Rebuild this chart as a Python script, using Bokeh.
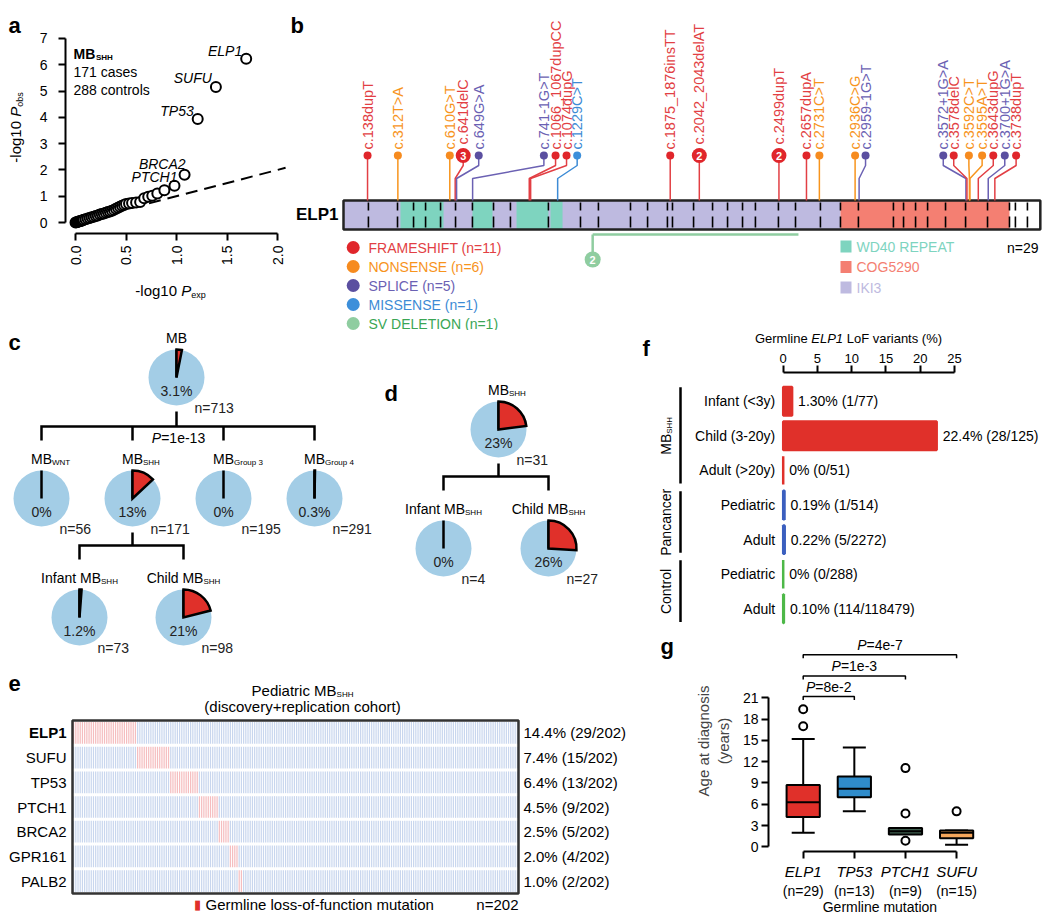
import math
from bokeh.plotting import figure
from bokeh.models import Range1d, Label, FixedTicker, NumeralTickFormatter
from bokeh.layouts import row, column
from bokeh.embed import file_html
from bokeh.resources import INLINE
from bokeh.core.properties import value

FONT = "Liberation Sans"

# ============================ DATA ============================
# (a) QQ plot, MB_SHH cases vs controls
qq_expected = [0.00, 0.01, 0.02, 0.03, 0.04, 0.05, 0.06, 0.07, 0.08, 0.10, 0.12, 0.14, 0.16, 0.18,
               0.20, 0.22, 0.24, 0.26, 0.28, 0.30, 0.32, 0.34, 0.36, 0.38, 0.40, 0.42, 0.44, 0.46,
               0.48, 0.50, 0.53, 0.56, 0.60, 0.64, 0.68, 0.72, 0.76, 0.81, 0.88, 0.98, 1.08, 1.21,
               1.39, 1.69]
qq_observed = [0.00, 0.01, 0.02, 0.04, 0.05, 0.06, 0.07, 0.09, 0.10, 0.12, 0.15, 0.17, 0.20, 0.22,
               0.25, 0.27, 0.30, 0.32, 0.34, 0.37, 0.40, 0.42, 0.45, 0.48, 0.52, 0.56, 0.60, 0.64,
               0.67, 0.70, 0.72, 0.74, 0.76, 0.78, 0.92, 0.98, 1.02, 1.10, 1.23, 1.40, 1.82, 3.94,
               5.15, 6.23]
qq_null = [0.0, 2.08]
qq_gene_names = ["ELP1", "SUFU", "TP53", "BRCA2", "PTCH1"]
qq_gene_index = [43, 42, 41, 40, 39]
qq_cases = 171
qq_controls = 288

# (b) ELP1 germline variants (cDNA coordinates)
elp1_cds_len = 3999
mut_names = ["c.138dupT", "c.312T>A", "c.610G>T", "c.641delC", "c.649G>A", "c.741-1G>T",
             "c.1066_1067dupCC", "c.1074dupG", "c.1229C>T", "c.1875_1876insTT", "c.2042_2043delAT",
             "c.2499dupT", "c.2657dupA", "c.2731C>T", "c.2936C>G", "c.2959-1G>T", "c.3572+1G>A",
             "c.3578delC", "c.3592C>T", "c.3595A>T", "c.3643dupG", "c.3700+1G>A", "c.3738dupT"]
mut_pos = [138, 312, 610, 641, 649, 741, 1066, 1074, 1229, 1875, 2042, 2499, 2657, 2731, 2936,
           2959, 3572, 3578, 3592, 3595, 3643, 3700, 3738]
mut_draw_pos = [138, 312, 610, 687, 776, 1150, 1217, 1280, 1341, 1875, 2042, 2499, 2657, 2731,
                2936, 2996, 3442, 3502, 3589, 3665, 3729, 3795, 3860]
mut_type = ["FS", "NS", "NS", "FS", "SP", "SP", "FS", "FS", "MS", "FS", "FS", "FS", "FS", "NS",
            "NS", "SP", "SP", "FS", "NS", "NS", "FS", "SP", "FS"]
mut_count = [1, 1, 1, 3, 1, 1, 1, 1, 1, 1, 2, 2, 1, 1, 1, 1, 1, 1, 1, 1, 1, 1, 1]
exon_bounds = [143, 310, 402, 471, 557, 643, 740, 861, 958, 1176, 1360, 1463, 1647, 1745, 1859,
               1888, 2009, 2118, 2204, 2290, 2364, 2496, 2594, 2737, 2852, 2955, 3156, 3214, 3283,
               3352, 3455, 3570, 3696, 3822, 3856, 3925]
iki3_span = [0, 2852]
cog5290_span = [2852, 3822]
wd40_starts = [327, 740, 993, 1188]
wd40_ends = [574, 855, 1176, 1257]
sv_span = [1430, 2611]
sv_count = 2
variant_classes = ["FRAMESHIFT", "NONSENSE", "SPLICE", "MISSENSE", "SV DELETION"]
variant_class_n = [11, 6, 5, 1, 1]
domain_names = ["WD40 REPEAT", "COG5290", "IKI3"]
elp1_carriers = 29

# (c) ELP1 carrier frequency by subgroup
c_names = ["MB", "WNT", "SHH", "Group 3", "Group 4", "Infant", "Child"]
c_pct = [3.1, 0, 13, 0, 0.3, 1.2, 21]
c_n = [713, 56, 171, 195, 291, 73, 98]
c_pvalue = "1e-13"

# (d) replication cohort
d_names = ["SHH", "Infant", "Child"]
d_pct = [23, 0, 26]
d_n = [31, 4, 27]

# (e) pediatric MB_SHH germline LoF genes
e_genes = ["ELP1", "SUFU", "TP53", "PTCH1", "BRCA2", "GPR161", "PALB2"]
e_carriers = [29, 15, 13, 9, 5, 4, 2]
e_total = 202

# (f) germline ELP1 LoF frequency
f_groups = ["MB_SHH", "MB_SHH", "MB_SHH", "Pancancer", "Pancancer", "Control", "Control"]
f_labels = ["Infant (<3y)", "Child (3-20y)", "Adult (>20y)", "Pediatric", "Adult", "Pediatric", "Adult"]
f_pct = [1.30, 22.4, 0, 0.19, 0.22, 0, 0.10]
f_pct_text = ["1.30%", "22.4%", "0%", "0.19%", "0.22%", "0%", "0.10%"]
f_k = [1, 28, 0, 1, 5, 0, 114]
f_n = [77, 125, 51, 514, 2272, 288, 118479]
f_ticks = [0, 5, 10, 15, 20, 25]

# (g) age at diagnosis by germline mutation
g_genes = ["ELP1", "TP53", "PTCH1", "SUFU"]
g_n = [29, 13, 9, 15]
g_low = [2.0, 5.0, 1.8, 0.3]
g_q1 = [4.2, 7.0, 1.75, 1.2]
g_med = [6.3, 8.2, 2.2, 2.0]
g_q3 = [8.7, 9.9, 2.65, 2.3]
g_high = [15.2, 14.0, 2.6, 2.3]
g_out_group = [0, 0, 2, 2, 2, 3]
g_out_age = [17.0, 19.4, 11.1, 4.7, 0.85, 5.0]
g_pairs = [1, 2, 3]
g_pvalues = ["8e-2", "1e-3", "4e-7"]
g_yticks = [0, 3, 6, 9, 12, 15, 18, 21]

# ============================ STYLE ============================
RED = "#E0302A"
PIE_BLUE = "#A3CDE6"
TYPE_FILL = {"FS": "#E0262B", "NS": "#F68B1F", "SP": "#5B4FA0", "MS": "#3D8FDA"}
TYPE_TEXT = {"FS": "#E23F44", "NS": "#F7941D", "SP": "#6B61B3", "MS": "#3D8BD5"}
CLASS_FILL = ["#E0262B", "#F68B1F", "#5B4FA0", "#3D8FDA", "#8FCDA0"]
CLASS_TEXT = ["#E23F44", "#F7941D", "#6B61B3", "#3D8BD5", "#3AA655"]
IKI3_C, WD40_C, COG_C = "#BEBAE0", "#7ED4BF", "#F47F72"
GROUP_C = {"MB_SHH": "#E0302A", "Pancancer": "#3B5FBF", "Control": "#4DB848"}
BOX_C = ["#E0302A", "#2F8CCB", "#3E5E4E", "#F5A65B"]

_W = {' ': .278, '!': .278, '(': .333, ')': .333, '%': .889, '+': .584, '-': .333, '.': .278,
      '/': .278, '<': .584, '=': .584, '>': .584, '_': .556,
      'A': .667, 'B': .667, 'C': .722, 'D': .722, 'E': .667, 'F': .611, 'G': .778, 'H': .722,
      'I': .278, 'J': .5, 'K': .667, 'L': .556, 'M': .833, 'N': .722, 'O': .778, 'P': .667,
      'Q': .778, 'R': .722, 'S': .667, 'T': .611, 'U': .722, 'V': .667, 'W': .944, 'X': .667,
      'Y': .667, 'Z': .611, 'a': .556, 'b': .556, 'c': .5, 'd': .556, 'e': .556, 'f': .278,
      'g': .556, 'h': .556, 'i': .222, 'j': .222, 'k': .5, 'l': .222, 'm': .833, 'n': .556,
      'o': .556, 'p': .556, 'q': .556, 'r': .333, 's': .5, 't': .278, 'u': .556, 'v': .5,
      'w': .722, 'x': .5, 'y': .5, 'z': .5}


def tw(s, size, style="normal"):
    w = sum(_W.get(ch, 0.556) for ch in s) * size
    return w * (1.07 if "bold" in style else 1.0)


def lab(P, text, rx, ry, size=14, style="normal", color="black", align="left",
        baseline="middle", angle=0.0):
    p, mx, my = P
    p.add_layout(Label(x=mx(rx), y=my(ry), text=text, text_font=FONT,
                       text_font_size=f"{size}px", text_font_style=style, text_color=color,
                       text_align=align, text_baseline=baseline, angle=angle))


def rich(P, pieces, rx, ry, align="left", rotate=False):
    tot = sum(tw(t, s, st) for t, s, st, c, d in pieces)
    cur = {"left": 0.0, "center": -tot / 2, "right": -tot}[align]
    for t, s, st, c, d in pieces:
        lead = len(t) - len(t.lstrip(" "))
        cur += lead * 0.278 * s
        body = t.strip(" ")
        if rotate:
            lab(P, body, rx + d, ry - cur, s, st, c, "left", "middle", math.pi / 2)
        else:
            lab(P, body, rx + cur, ry + d, s, st, c, "left", "middle")
        cur += tw(t.lstrip(" "), s, st)


def canvas(w, h, xr, yr):
    p = figure(width=w, height=h, x_range=xr, y_range=yr, x_axis_location=None,
               y_axis_location=None, toolbar_location=None, output_backend="svg", min_border=0)
    p.outline_line_color = None
    p.grid.visible = False
    return p


def canvas_ref(x0, y0, w, h):
    p = canvas(w, h, Range1d(x0, x0 + w), Range1d(-(y0 + h), -y0))
    return p, (p, lambda rx: rx, lambda ry: -ry)


def box(p):
    return column(p)


TXT = dict(text_font=value(FONT))


def style_axis(ax, size="14px"):
    ax.axis_line_width = 2
    ax.axis_line_color = "black"
    ax.major_tick_line_width = 2
    ax.major_tick_line_color = "black"
    ax.major_tick_out = 7
    ax.major_tick_in = 0
    ax.minor_tick_line_color = None
    ax.major_label_text_font = FONT
    ax.major_label_text_font_size = size
    ax.major_label_text_color = "black"


# ============================ (a) ============================
A_X0, A_PX, A_Y0, A_PY = 75.0, 101.0, 222.0, 26.29
amx = lambda rx: (rx - A_X0) / A_PX
amy = lambda ry: (A_Y0 - ry) / A_PY
pa = figure(width=259, height=275, x_range=Range1d(amx(65), amx(287)),
            y_range=Range1d(amy(233), amy(30)), min_border_left=37, min_border_right=0,
            min_border_top=30, min_border_bottom=42, toolbar_location=None, output_backend="svg")
Pa = (pa, amx, amy)
pa.grid.visible = False
pa.outline_line_color = None
style_axis(pa.xaxis[0])
style_axis(pa.yaxis[0])
pa.xaxis.ticker = FixedTicker(ticks=[0, 0.5, 1, 1.5, 2])
pa.xaxis.formatter = NumeralTickFormatter(format="0.0")
pa.xaxis.bounds = (0, 2)
pa.xaxis.major_label_orientation = math.pi / 2
pa.xaxis.major_label_standoff = 5
pa.yaxis.ticker = FixedTicker(ticks=list(range(8)))
pa.yaxis.bounds = (0, 7)
pa.yaxis.major_label_standoff = 11
pa.line(qq_null, qq_null, line_color="black", line_width=2, line_dash="12 7")
pa.scatter(qq_expected, qq_observed, size=10, fill_color="white", line_color="black", line_width=2)
pa.text([qq_expected[i] for i in qq_gene_index], [qq_observed[i] for i in qq_gene_index],
        text=qq_gene_names, x_offset=[-4, -4, -4, 1, 3], y_offset=[-8, -9, -8, -11, -9],
        text_align="right", text_baseline="middle", text_font_size="14px",
        text_font_style="italic", text_color="black", **TXT)
rich(Pa, [("MB", 14, "bold", "black", 0), ("SHH", 8, "bold", "black", 4)], 73, 53)
lab(Pa, f"{qq_cases} cases", 73, 71, 14)
lab(Pa, f"{qq_controls} controls", 73, 89, 14)

paL, PaL = canvas_ref(0, 0, 28, 330)
lab(PaL, "a", 8, 25, 22, "bold", baseline="alphabetic")
rich(PaL, [("-log10 ", 15, "normal", "black", 0), ("P", 15, "italic", "black", 0),
           ("obs", 9, "normal", "black", 4)], 15, 127, "center", rotate=True)
paB, PaB = canvas_ref(28, 275, 259, 55)
rich(PaB, [("-log10 ", 15, "normal", "black", 0), ("P", 15, "italic", "black", 0),
           ("exp", 9, "normal", "black", 4)], 170, 290, "center")

# ============================ (b) ============================
B_X0, B_PX = 343.0, 0.17425
bmx = lambda rx: (rx - B_X0) / B_PX
bmy = lambda ry: -ry
pb = canvas(755, 330, Range1d(bmx(287), bmx(1042)), Range1d(-330, 0))
Pb = (pb, bmx, bmy)
BAR_T, BAR_B = -200, -229
pb.quad(left=[iki3_span[0]], right=[iki3_span[1]], bottom=BAR_B, top=BAR_T, fill_color=IKI3_C, line_color=None)
pb.quad(left=wd40_starts, right=wd40_ends, bottom=BAR_B, top=BAR_T, fill_color=WD40_C, line_color=None)
pb.quad(left=[cog5290_span[0]], right=[cog5290_span[1]], bottom=BAR_B, top=BAR_T, fill_color=COG_C, line_color=None)
pb.segment(x0=exon_bounds, y0=-202, x1=exon_bounds, y1=-210, line_color="black", line_width=1.6)
pb.segment(x0=exon_bounds, y0=-216, x1=exon_bounds, y1=-227, line_color="black", line_width=1.6)
pb.quad(left=[0], right=[elp1_cds_len], bottom=BAR_B, top=BAR_T, fill_color=None,
        line_color="#222222", line_width=2.5)

stem_xs = [[a, a, h, h] for a, h in zip(mut_pos, mut_draw_pos)]
stem_ys = [[-200, -178, -165, -155] for _ in mut_pos]
pb.multi_line(xs=stem_xs, ys=stem_ys, line_color=[TYPE_TEXT[t] for t in mut_type], line_width=1.5)
pb.scatter(x=mut_draw_pos, y=-155, size=[15 if c > 1 else 8 for c in mut_count],
           fill_color=[TYPE_FILL[t] for t in mut_type], line_color=None)
multi = [i for i, c in enumerate(mut_count) if c > 1]
pb.text(x=[mut_draw_pos[i] for i in multi], y=-155, text=[str(mut_count[i]) for i in multi],
        text_align="center", text_baseline="middle", text_font_size="11px",
        text_font_style="bold", text_color="white", **TXT)
pb.text(x=mut_draw_pos, y=[-144 if c > 1 else -149 for c in mut_count], text=mut_names,
        angle=math.pi / 2, text_align="left", text_baseline="middle", text_font_size="14.5px",
        text_color=[TYPE_TEXT[t] for t in mut_type], **TXT)

pb.multi_line(xs=[[sv_span[0], sv_span[0]], [sv_span[0], sv_span[1]]], ys=[[-252, -234], [-234, -234]],
              line_color=CLASS_FILL[4], line_width=2.5)
pb.scatter(x=[sv_span[0]], y=[-259], size=16, fill_color=CLASS_FILL[4], line_color=None)
pb.text(x=[sv_span[0]], y=[-259], text=[str(sv_count)], text_align="center", text_baseline="middle",
        text_font_size="11px", text_font_style="bold", text_color="white", **TXT)

leg_y = [-(247 + 19 * k) for k in range(len(variant_classes))]
pb.scatter(x=bmx(352.7), y=leg_y, size=13, fill_color=CLASS_FILL, line_color=None)
pb.text(x=bmx(368), y=leg_y, text=[f"{c} (n={n})" for c, n in zip(variant_classes, variant_class_n)],
        text_align="left", text_baseline="middle", text_font_size="14px", text_color=CLASS_TEXT, **TXT)
dom_cols = [WD40_C, COG_C, IKI3_C]
dl_y = [246, 266.5, 287]
pb.quad(left=bmx(840), right=bmx(851), bottom=[-(y + 6) for y in dl_y], top=[-(y - 6) for y in dl_y],
        fill_color=dom_cols, line_color=None)
pb.text(x=bmx(856), y=[-y for y in dl_y], text=domain_names, text_align="left", text_baseline="middle",
        text_font_size="14px", text_color=dom_cols, **TXT)
lab(Pb, f"n={elp1_carriers}", 1038, 247, 14, align="right")
lab(Pb, "ELP1", 338, 214, 17, "bold", align="right")
lab(Pb, "b", 290, 25, 22, "bold", baseline="alphabetic")

# ============================ (c), (d) pies ============================
PIE_R = 28


def pie_nodes(P, centers, pcts, ns, mains, subs, modes):
    p = P[0]
    xs = [c[0] for c in centers]
    ys = [-c[1] for c in centers]
    p.circle(x=xs, y=ys, radius=PIE_R, fill_color=PIE_BLUE, line_color=None)
    p.segment(x0=xs, y0=ys, x1=xs, y1=[y + PIE_R for y in ys], line_color="black", line_width=2.5)
    for x, y, v in zip(xs, ys, pcts):
        if v > 0:
            p.wedge(x=[x], y=[y], radius=PIE_R, start_angle=math.pi / 2,
                    end_angle=math.pi / 2 - 2 * math.pi * v / 100, direction="clock",
                    fill_color=RED, line_color="black", line_width=2.5, line_join="miter")
    p.text(x=xs, y=[y - 13 for y in ys], text=[f"{v:g}%" for v in pcts], text_align="center",
           text_baseline="middle", text_font_size="14px", text_color="#222222", **TXT)
    p.text(x=[x + 18 for x in xs], y=[y - 30 for y in ys], text=[f"n={n}" for n in ns],
           text_align="left", text_baseline="middle", text_font_size="14px", text_color="#222222", **TXT)
    for (cx, cy), m, s, mode in zip(centers, mains, subs, modes):
        ly = cy - 40
        if not s:
            lab(P, m, cx, ly, 14, align="center")
        elif mode == "mb":
            rich(P, [(m, 14, "normal", "black", 0), (s, 8, "normal", "black", 4)], cx - tw(m, 14) / 2, ly)
        else:
            rich(P, [(m, 14, "normal", "black", 0), (s, 8, "normal", "black", 4)], cx, ly, "center")


def tree(P, parent, kids):
    hy = kids[0][1] - 72
    by = kids[0][1] - 58
    xs = [[parent[0], parent[0]], [kids[0][0], kids[0][0], kids[-1][0], kids[-1][0]]]
    ys = [[-(parent[1] + 34), -hy], [-by, -hy, -hy, -by]]
    for k in kids[1:-1]:
        xs.append([k[0], k[0]])
        ys.append([-hy, -by])
    P[0].multi_line(xs=xs, ys=ys, line_color="black", line_width=2.5, line_join="miter")


pc, Pc = canvas_ref(0, 330, 378, 338)
C = [(176, 377), (41, 498), (132, 498), (223, 498), (314, 498), (79, 617), (183, 617)]
tree(Pc, C[0], C[1:5])
tree(Pc, C[2], C[5:7])
c_mains = ["MB", "MB", "MB", "MB", "MB", f"{c_names[5]} MB", f"{c_names[6]} MB"]
c_subs = ["", c_names[1], c_names[2], c_names[3], c_names[4], "SHH", "SHH"]
c_modes = ["mb", "mb", "mb", "mb", "mb", "full", "full"]
pie_nodes(Pc, C, c_pct, c_n, c_mains, c_subs, c_modes)
rich(Pc, [("P", 14, "italic", "black", 0), (f"={c_pvalue}", 14, "normal", "black", 0)], 178, 437, "center")
lab(Pc, "c", 8, 342, 22, "bold", baseline="alphabetic")

pd, Pd = canvas_ref(378, 330, 277, 338)
D = [(498, 429), (443, 548), (548, 548)]
tree(Pd, D[0], D[1:3])
pie_nodes(Pd, D, d_pct, d_n, ["MB", f"{d_names[1]} MB", f"{d_names[2]} MB"],
          [d_names[0], "SHH", "SHH"], ["mb", "full", "full"])
lab(Pd, "d", 384, 393, 22, "bold", baseline="alphabetic")
lab(Pd, "f", 642, 348, 22, "bold", baseline="alphabetic")

# ============================ (e) ============================
E_L, E_R, E_T, E_B = 72, 518, 720, 893
NG = len(e_genes)
emx = lambda rx: (rx - E_L) * e_total / (E_R - E_L)
emy = lambda ry: (E_B - ry) * NG / (E_B - E_T)
pe = canvas(655, 245, Range1d(emx(0), emx(655)), Range1d(emy(913), emy(668)))
Pe = (pe, emx, emy)
cx_, cy_, cc_ = [], [], []
start = 0
for i, k in enumerate(e_carriers):
    for j in range(e_total):
        cx_.append(j + 0.5)
        cy_.append(NG - i - 0.5)
        cc_.append("#F5BDBF" if start <= j < start + k else "#C8D6EE")
    start += k
pe.rect(x=cx_, y=cy_, width=0.55, height=0.88, fill_color=cc_, line_color=None)
pe.quad(left=[0], right=[e_total], bottom=[0], top=[NG], fill_color=None, line_color="#333333", line_width=2.5)
rh = (E_B - E_T) / NG
for i, (g, k) in enumerate(zip(e_genes, e_carriers)):
    ry = E_T + (i + 0.5) * rh
    lab(Pe, g, 66, ry, 15, "bold" if i == 0 else "normal", align="right")
    lab(Pe, f"{100 * k / e_total:.1f}% ({k}/{e_total})", 523, ry, 15)
rich(Pe, [("Pediatric MB", 15, "normal", "black", 0), ("SHH", 8, "normal", "black", 4)], 302, 690, "center")
lab(Pe, "(discovery+replication cohort)", 302, 706, 15, align="center")
lab(Pe, "\u25AE", 197, 904, 13, color=RED, align="center")
lab(Pe, "Germline loss-of-function mutation", 205, 904, 15)
lab(Pe, f"n={e_total}", 518, 904, 15, align="right")
lab(Pe, "e", 8, 683, 22, "bold", baseline="alphabetic")

# ============================ (f) ============================
F_X0, F_PX, F_Y0, F_PY = 782.7, 6.852, 400.7, 34.6
fmx = lambda rx: (rx - F_X0) / F_PX
fmy = lambda ry: -(ry - F_Y0) / F_PY
pfT, PfT = canvas_ref(655, 330, 387, 16)
rich(PfT, [("Germline ", 13, "normal", "black", 0), ("ELP1", 13, "italic", "black", 0),
           (" LoF variants (%)", 13, "normal", "black", 0)], 848, 338, "center")

pf = figure(width=387, height=284, x_range=Range1d(fmx(655), fmx(1042)),
            y_range=Range1d(fmy(630), fmy(372)), x_axis_location="above", y_axis_location=None,
            min_border_left=0, min_border_right=0, min_border_bottom=0, min_border_top=26,
            toolbar_location=None, output_backend="svg")
Pf = (pf, fmx, fmy)
pf.grid.visible = False
pf.outline_line_color = None
style_axis(pf.xaxis[0], "13px")
pf.xaxis.ticker = FixedTicker(ticks=f_ticks)
pf.xaxis.bounds = (f_ticks[0], f_ticks[-1])
pf.xaxis.major_label_standoff = 3
rows_y = [-i for i in range(len(f_labels))]
fcols = [GROUP_C[g] for g in f_groups]
pf.hbar(y=rows_y, left=0, right=f_pct, height=0.82, fill_color=fcols, line_color=fcols, line_width=2.5)
pf.text(x=0, y=rows_y, text=f_labels, x_offset=-8, text_align="right", text_baseline="middle",
        text_font_size="14px", text_color="black", **TXT)
pf.text(x=f_pct, y=rows_y, text=[f"{t} ({k}/{n})" for t, k, n in zip(f_pct_text, f_k, f_n)],
        x_offset=6, text_align="left", text_baseline="middle", text_font_size="14px",
        text_color="black", **TXT)
groups = []
for i, g in enumerate(f_groups):
    if groups and groups[-1][0] == g:
        groups[-1][2] = i
    else:
        groups.append([g, i, i])
pf.segment(x0=fmx(680), x1=fmx(680), y0=[-a + 0.4 for _, a, b in groups], y1=[-b - 0.38 for _, a, b in groups],
           line_color="black", line_width=2.5)
for g, a, b in groups:
    cyr = F_Y0 + F_PY * (a + b) / 2
    if g == "MB_SHH":
        rich(Pf, [("MB", 14, "normal", "black", 0), ("SHH", 8, "normal", "black", 4)], 665, cyr, "center", rotate=True)
    else:
        lab(Pf, g, 665, cyr, 14, align="center", angle=math.pi / 2)

# ============================ (g) ============================
G_X0, G_PX, G_Y0, G_PY = 802.7, 51.13, 847.3, 7.124
gmx = lambda rx: (rx - G_X0) / G_PX
gmy = lambda ry: (G_Y0 - ry) / G_PY
pgL, PgL = canvas_ref(655, 630, 35, 283)
lab(PgL, "g", 660, 646, 22, "bold", baseline="alphabetic")

pg = figure(width=352, height=252, x_range=Range1d(gmx(768), gmx(1042)),
            y_range=Range1d(gmy(852), gmy(630)), min_border_left=78, min_border_right=0,
            min_border_top=0, min_border_bottom=30, toolbar_location=None, output_backend="svg")
Pg = (pg, gmx, gmy)
pg.grid.visible = False
pg.outline_line_color = None
ay = pg.yaxis[0]
style_axis(ay)
ay.ticker = FixedTicker(ticks=g_yticks)
ay.bounds = (g_yticks[0], g_yticks[-1])
ay.major_label_standoff = 3
ay.axis_label = "Age at diagnosis\n(years)"
ay.axis_label_text_font = FONT
ay.axis_label_text_font_size = "15px"
ay.axis_label_text_font_style = "normal"
ay.axis_label_standoff = 8
gidx = list(range(len(g_genes)))
ax1 = pg.xaxis[0]
style_axis(ax1, "15px")
ax1.ticker = FixedTicker(ticks=gidx)
ax1.bounds = (0, len(g_genes) - 1)
ax1.major_label_overrides = {i: g for i, g in zip(gidx, g_genes)}
ax1.major_label_text_font_style = "italic"
ax1.major_label_standoff = 4
pg.segment(x0=gidx, y0=g_q3, x1=gidx, y1=g_high, line_color="black", line_width=2)
pg.segment(x0=gidx, y0=g_q1, x1=gidx, y1=g_low, line_color="black", line_width=2)
pg.segment(x0=[i - 0.225 for i in gidx], y0=g_high, x1=[i + 0.225 for i in gidx], y1=g_high, line_color="black", line_width=2)
pg.segment(x0=[i - 0.225 for i in gidx], y0=g_low, x1=[i + 0.225 for i in gidx], y1=g_low, line_color="black", line_width=2)
pg.vbar(x=gidx, width=0.65, bottom=g_q1, top=g_q3, fill_color=BOX_C, line_color="black", line_width=2)
pg.segment(x0=[i - 0.325 for i in gidx], y0=g_med, x1=[i + 0.325 for i in gidx], y1=g_med, line_color="black", line_width=2)
pg.scatter(g_out_group, g_out_age, size=8, fill_color="white", line_color="black", line_width=2)
levels = [21.2, 24.1, 27.1]
pg.multi_line(xs=[[0, 0, k, k] for k in g_pairs], ys=[[l - 0.5, l, l, l - 0.5] for l in levels],
              line_color="black", line_width=1.5)
for k, l, pv in zip(g_pairs, levels, g_pvalues):
    rich(Pg, [("P", 14, "italic", "black", 0), (f"={pv}", 14, "normal", "black", 0)],
         G_X0 + k / 2 * G_PX, G_Y0 - l * G_PY - 10, "center")

pgB = canvas(352, 31, Range1d(gmx(690), gmx(1042)), Range1d(-913, -882))
PgB = (pgB, gmx, lambda ry: -ry)
pgB.text(x=gidx, y=-890, text=[f"(n={n})" for n in g_n], text_align="center", text_baseline="middle",
         text_font_size="14px", text_color="black", **TXT)
lab(PgB, "Germline mutation", G_X0 + 1.5 * G_PX, 906, 14, align="center")

# ============================ LAYOUT ============================
top = row(box(paL), column(box(pa), box(paB)), box(pb))
left_bottom = column(row(box(pc), box(pd)), box(pe))
right_bottom = column(box(pfT), box(pf), row(box(pgL), column(box(pg), box(pgB))))
layout = column(top, row(left_bottom, right_bottom))
open("out.html", "w").write(file_html(layout, INLINE))
